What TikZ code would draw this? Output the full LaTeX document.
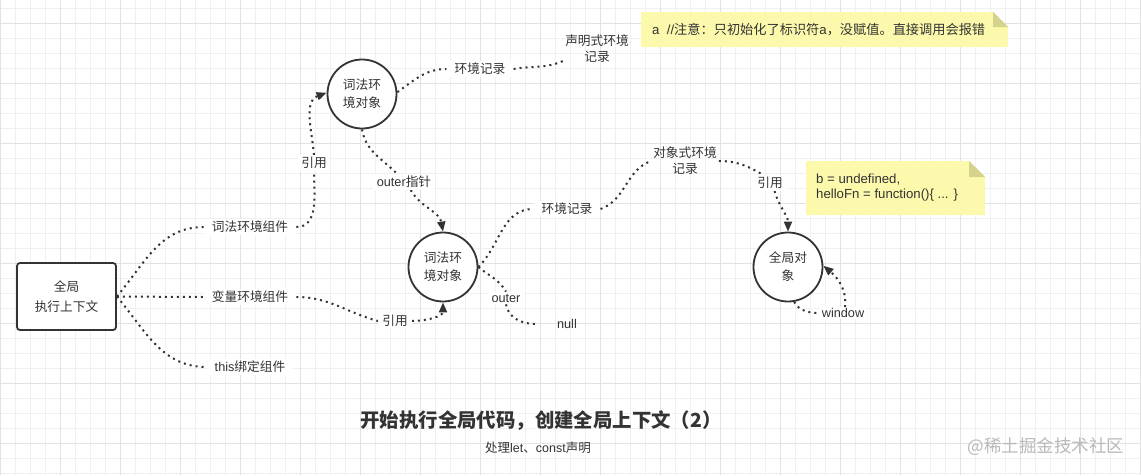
\documentclass[tikz,border=0pt]{standalone}
\usepackage{fontspec}
\setmainfont{Noto Sans CJK SC}
\newfontfamily\lat{Liberation Sans}
\usetikzlibrary{arrows.meta}
\definecolor{ink}{HTML}{333333}
\definecolor{notey}{RGB}{252,249,172}
\definecolor{foldy}{RGB}{212,210,140}
\definecolor{gridminor}{RGB}{240,240,240}
\definecolor{gridmajor}{RGB}{226,226,226}
\definecolor{wm}{RGB}{185,185,185}
\pgfdeclarelayer{gridlayer}
\pgfdeclarelayer{bg}
\pgfsetlayers{gridlayer,bg,main}
\begin{document}
\begin{tikzpicture}[x=1pt,y=-1pt,
  txt/.style={text=ink, font=\fontsize{12.7}{16}\selectfont, align=center},
  lbl/.style={txt, fill=white, inner xsep=8pt, inner ysep=2pt},
  conn/.style={draw=ink, line width=2pt, dash pattern=on 2pt off 4pt},
  arr/.style={conn, -{Triangle[length=10pt,width=8pt]}},
  circ/.style={circle, draw=ink, line width=1.8pt, minimum size=69pt, inner sep=0pt,
    fill=white, txt, font=\fontsize{12.7}{18}\selectfont},
  boxst/.style={rectangle, draw=ink, line width=1.8pt, rounded corners=3pt,
    minimum width=99pt, minimum height=67pt, fill=white, txt, font=\fontsize{12.7}{20}\selectfont},
  notetxt/.style={text=ink, font=\fontsize{13.2}{15}\selectfont, align=left, anchor=west, inner sep=0pt}
]
\useasboundingbox (0,0) rectangle (1141,475);
\begin{pgfonlayer}{gridlayer}
  \fill[white] (0,0) rectangle (1141,475);
  \foreach \x in {0,15,...,1140} {\draw[gridminor, line width=0.8pt] (\x,0) -- (\x,475);}
  \foreach \y in {8,23,...,475} {\draw[gridminor, line width=0.8pt] (0,\y) -- (1141,\y);}
  \foreach \x in {0,60,...,1140} {\draw[gridmajor, line width=0.8pt] (\x,0) -- (\x,475);}
  \foreach \y in {23,83,...,475} {\draw[gridmajor, line width=0.8pt] (0,\y) -- (1141,\y);}
\end{pgfonlayer}

% main shapes
\node[boxst] (box) at (66.5,296.5) {全局\\执行上下文};
\node[circ] (c1) at (362,94) {词法环\\境对象};
\node[circ] (c2) at (443,267) {词法环\\境对象};
\node[circ] (c3) at (788,267) {全局对\\象};

% labels
\node[lbl] (lex) at (250,227) {词法环境组件};
\node[lbl] (var) at (250,297) {变量环境组件};
\node[lbl] (thisb) at (250,367) {{\lat this}绑定组件};
\node[lbl, inner xsep=3pt] (ref1) at (314,163) {引用};
\node[lbl, inner xsep=4pt] (op) at (404,182) {{\lat outer}指针};
\node[lbl] (env1) at (480,69) {环境记录};
\node[txt, inner sep=1pt] (decl) at (597,48.5) {声明式环境\\记录};
\node[lbl] (env2) at (567,209) {环境记录};
\node[txt, inner sep=2pt] (obj) at (685,161) {对象式环境\\记录};
\node[lbl, inner xsep=4pt] (ref3) at (770,183) {引用};
\node[lbl, inner xsep=4pt] (outer) at (506,298) {\lat outer};
\node[txt, minimum width=62pt] (null) at (567,324) {\lat null};
\node[lbl, inner xsep=4pt] (ref2) at (395,321) {引用};
\node[lbl, inner xsep=2pt, inner ysep=1pt] (win) at (843,313) {\lat window};

% notes
\fill[notey] (641,12) -- (993,12) -- (1008,27) -- (1008,47) -- (641,47) -- cycle;
\fill[foldy] (993,12) -- (1008,27) -- (993,27) -- cycle;
\node[notetxt] (n1) at (652,30) {{\lat a\ \ //}注意：只初始化了标识符{\lat a}，没赋值。直接调用会报错};
\fill[notey] (806,161) -- (969,161) -- (985,177) -- (985,215) -- (806,215) -- cycle;
\fill[foldy] (969,161) -- (985,177) -- (969,177) -- cycle;
\node[notetxt, font=\lat\fontsize{13.2}{15}\selectfont] (n2) at (816,188) {b = undefined,\\helloFn = function()\{ ... \}};

% title
\node[text=ink, font=\bfseries\fontsize{19.4}{22}\selectfont] (title) at (541,421) {开始执行全局代码，创建全局上下文（2）};
\node[text=ink, font=\fontsize{12.5}{15}\selectfont] (sub) at (538,448) {处理{\lat let}、{\lat const}声明};
\node[text=wm, font=\fontsize{17.5}{20}\selectfont, anchor=east] (wmk) at (1128,447) {@稀土掘金技术社区};

% connectors
\begin{pgfonlayer}{bg}
  \draw[conn] (box.east) to[out=50,in=180] (lex.west);
  \draw[conn] (box.east) -- (var.west);
  \draw[conn] (box.east) to[out=-50,in=180] (thisb.west);
  \draw[conn] (lex.east) to[out=0,in=-90] (ref1.south);
  \draw[arr] (ref1.north) to[out=95,in=200] (c1.178);
  \draw[conn] (c1.3) to[out=35,in=180] (env1.west);
  \draw[conn] (env1.east) to[out=10,in=205] (decl.200);
  \draw[conn] (c1.south) to[out=-80,in=135] (op.130);
  \draw[arr] (op.-50) to[out=-60,in=100] (c2.north);
  \draw[conn] (c2.east) to[out=45,in=180] (env2.west);
  \draw[conn] (c2.east) to[out=-40,in=120] (outer.north);
  \draw[conn] (outer.south) to[out=-80,in=180] (null.west);
  \draw[conn] (env2.east) to[out=20,in=200] (obj.west);
  \draw[conn] (obj.east) to[out=0,in=150] (ref3.130);
  \draw[arr] (ref3.-60) to[out=-75,in=90] (c3.north);
  \draw[conn] (var.east) to[out=0,in=165] (ref2.west);
  \draw[arr] (ref2.east) to[out=0,in=-90] (c2.south);
  \draw[conn] (c3.-80) to[out=-60,in=180] (win.west);
  \draw[arr] (win.70) to[out=85,in=-40] (c3.2);
\end{pgfonlayer}
\end{tikzpicture}
\end{document}
